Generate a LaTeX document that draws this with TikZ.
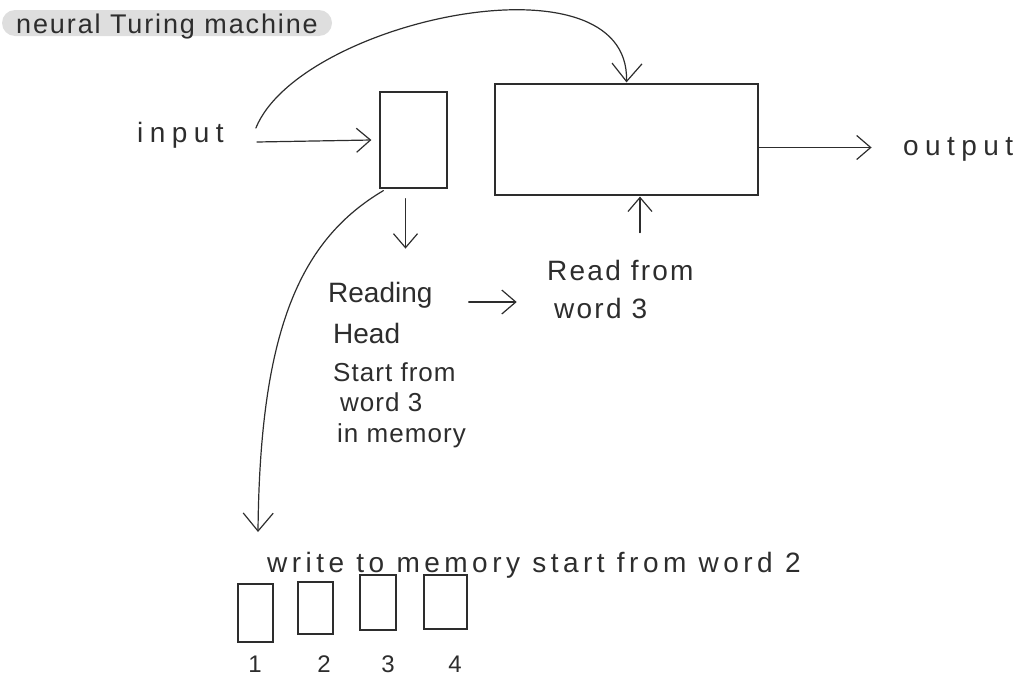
\documentclass[tikz,border=0pt]{standalone}
\usepackage{fontspec}
\setmainfont{Liberation Sans}
\usetikzlibrary{arrows.meta}
\definecolor{ink}{RGB}{45,45,45}
\definecolor{pillgray}{RGB}{222,222,222}
\begin{document}
\begin{tikzpicture}[x=1pt,y=-1pt,
  inkline/.style={draw=ink, line width=1.2pt},
  arr/.style={inkline, line cap=round, -{Straight Barb[length=14pt,width=24pt,line width=1.2pt]}},
  bigarr/.style={inkline, line cap=round, -{Straight Barb[length=18pt,width=30pt,line width=1.2pt]}},
  boxst/.style={inkline, inner sep=0pt},
  hand/.style={text=ink, inner sep=0pt, font=\fontsize{28}{30}\selectfont},
  small/.style={text=ink, inner sep=0pt, font=\fontsize{26}{28}\selectfont\addfontfeatures{LetterSpace=4}},
  wide/.style={text=ink, inner sep=0pt, font=\fontsize{28}{30}\selectfont\addfontfeatures{LetterSpace=23}},
  mid/.style={text=ink, inner sep=0pt, font=\fontsize{28}{30}\selectfont\addfontfeatures{LetterSpace=8}},
  num/.style={text=ink, inner sep=0pt, font=\fontsize{24}{26}\selectfont}]
\useasboundingbox (0,0) rectangle (1030,688);

% title pill
\node[fill=pillgray, rounded corners=13pt, minimum width=330pt, minimum height=26pt,
      inner sep=0pt, text height=20pt, text depth=0pt, text=ink,
      font=\fontsize{27}{29}\selectfont\addfontfeatures{LetterSpace=7}] (title) at (167,23) {neural Turing machine};

% input / output texts
\node[wide, anchor=base west] (input) at (137,142) {input};
\node[wide, anchor=base west] (output) at (903,155) {output};

% controller box and big box
\node[boxst, minimum width=67pt, minimum height=96pt] (ctrl) at (413.5,140) {};
\node[boxst, minimum width=263pt, minimum height=111pt] (big) at (626.5,139.5) {};

% reading head texts
\node[hand, anchor=base west] (rd1) at (328,302) {Reading};
\node[hand, anchor=base west] (rd2) at (333,343) {Head};
\node[small, anchor=base west] (st1) at (333,381) {Start from};
\node[small, anchor=base west] (st2) at (340,411) {word 3};
\node[small, anchor=base west] (st3) at (337,442) {in memory};

% read from texts
\node[mid, anchor=base west] (rf1) at (547,280) {Read from};
\node[mid, anchor=base west] (rf2) at (554,318) {word 3};

% write text
\node[text=ink, inner sep=0pt, anchor=base west,
      font=\fontsize{28}{30}\selectfont\addfontfeatures{LetterSpace=16}] (write) at (267,572) {write to memory start from word 2};

% memory cells
\node[boxst, minimum width=35pt, minimum height=58pt] (m1) at (255.5,613) {};
\node[boxst, minimum width=35pt, minimum height=52pt] (m2) at (315.5,608) {};
\node[boxst, minimum width=36pt, minimum height=55pt] (m3) at (378,602.5) {};
\node[boxst, minimum width=43pt, minimum height=54pt] (m4) at (445.5,602) {};
\node[num, anchor=base] (n1) at (255,672) {1};
\node[num, anchor=base] (n2) at (324,672) {2};
\node[num, anchor=base] (n3) at (388,672) {3};
\node[num, anchor=base] (n4) at (455,672) {4};

% connectors
\draw[arr] ([xshift=33pt]input.base east) -- ([xshift=-8pt]ctrl.west);
\draw[bigarr] ([xshift=32pt,yshift=14pt]input.base east)
   .. controls (300,20) and (630,-50) .. ([yshift=1pt]big.north);
\draw[arr] ([yshift=-8pt]big.east) -- ++(113,0);
\draw[arr] ([xshift=-8pt,yshift=-10pt]ctrl.south) -- ([xshift=-8pt,yshift=-60pt]ctrl.south);
\draw[bigarr] ([xshift=4pt,yshift=-2pt]ctrl.south west)
   .. controls (300,240) and (260,330) .. ([xshift=-9pt,yshift=40pt]write.base west);
\draw[arr] ([xshift=13.5pt,yshift=-37pt]big.south) -- ([xshift=13.5pt,yshift=-1pt]big.south);
\draw[arr] ([xshift=36pt]rd1.base east) -- ++(48,0);
\end{tikzpicture}
\end{document}
